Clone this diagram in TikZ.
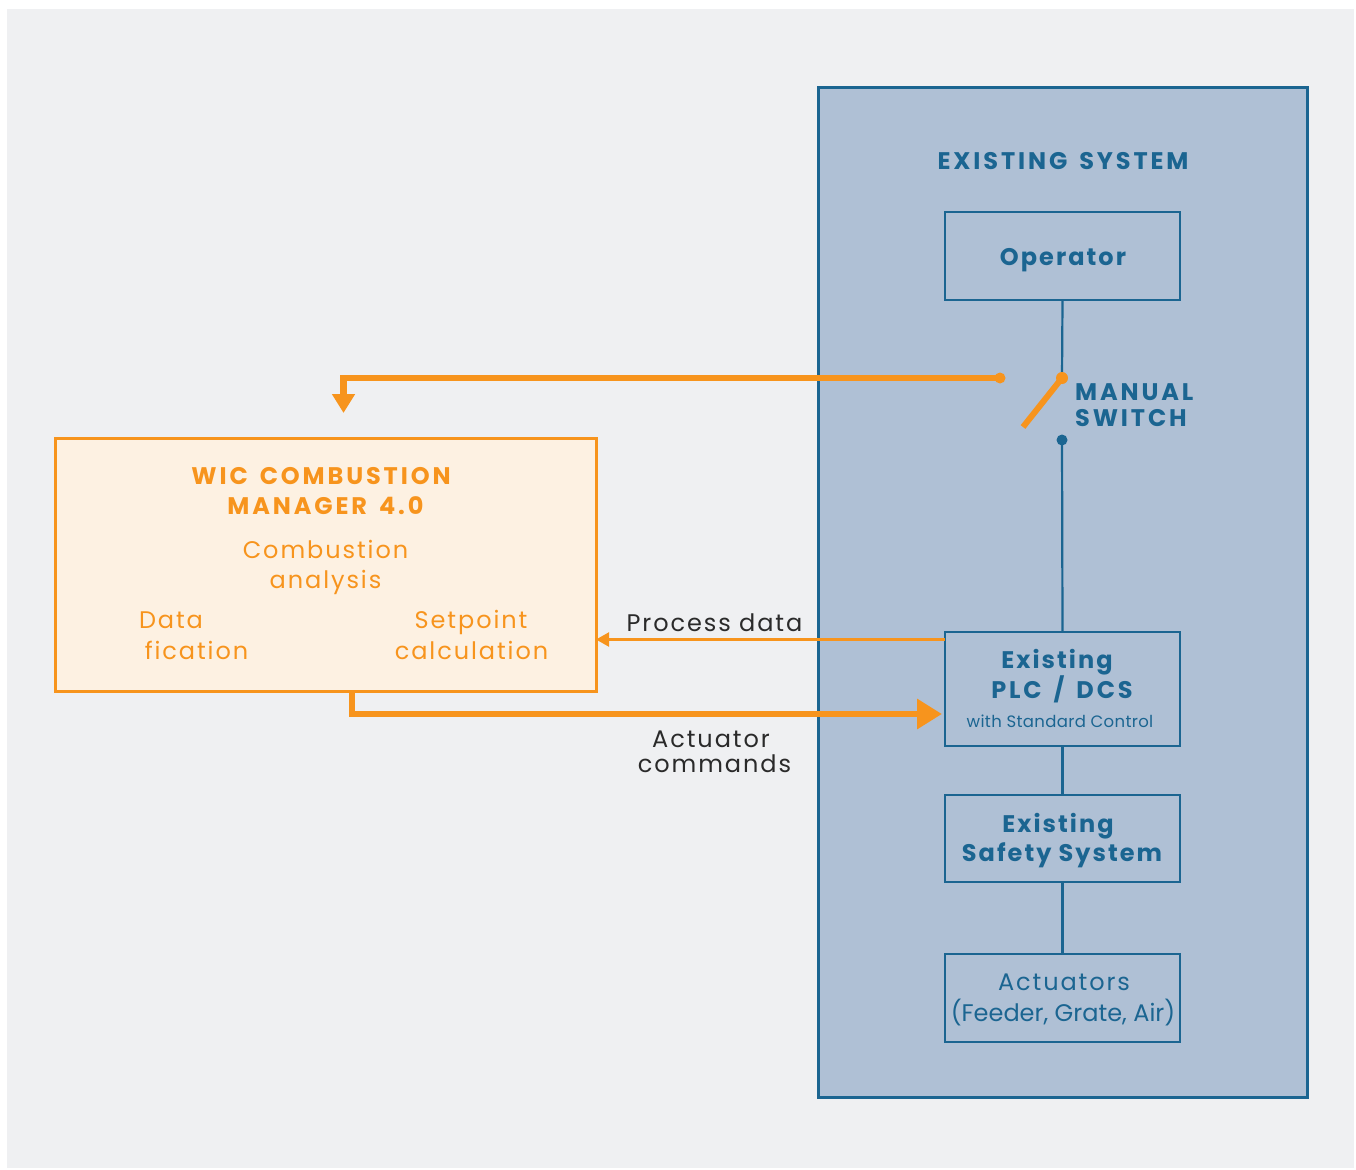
\documentclass[tikz,border=0pt]{standalone}
\usepackage{fontspec}
\setmainfont{Poppins}[LetterSpace=8]
\newfontfamily\capsfamily{Poppins}[LetterSpace=12, WordSpace=1.5]
\usetikzlibrary{arrows.meta}

\definecolor{pagebg}{HTML}{EFF0F2}
\definecolor{panelfill}{HTML}{AFC0D5}
\definecolor{sysblue}{HTML}{1B6591}
\definecolor{wicorange}{HTML}{F7941D}
\definecolor{wicfill}{HTML}{FDF1E2}
\definecolor{ink}{HTML}{2A2A2A}

\newcommand\txtsize[1]{\fontsize{#1}{#1}\selectfont}
\newcommand\capsbold{\capsfamily\bfseries}
\newcommand\mixbold{\bfseries\addfontfeature{LetterSpace=8.5}}

\tikzset{
  sysbox/.style={draw=sysblue, line width=1.8pt, minimum width=235pt, inner sep=0pt, outer sep=0pt},
  systxt/.style={anchor=base, text=sysblue, inner sep=0pt, font=\txtsize{24}\mixbold},
  syscaps/.style={anchor=base, text=sysblue, inner sep=0pt, font=\txtsize{24}\capsbold},
  sysplain/.style={anchor=base, text=sysblue, inner sep=0pt, font=\txtsize{24}},
  wictxt/.style={anchor=base, text=wicorange, inner sep=0pt, font=\txtsize{24}},
  wichead/.style={anchor=base, text=wicorange, inner sep=0pt, font=\txtsize{24}\capsbold},
  flowtxt/.style={anchor=base, text=ink, inner sep=0pt, font=\txtsize{24}},
  bluewire/.style={draw=sysblue, line width=2.2pt},
  heavyflow/.style={draw=wicorange, line width=6.5pt},
  contact/.style={circle, inner sep=0pt, outer sep=0pt},
}

\begin{document}
\begin{tikzpicture}[x=1pt, y=-1pt]
  \useasboundingbox (0,0) rectangle (1356,1169);
  \fill[white] (0,0) rectangle (1356,1169);
  \fill[pagebg] (7,9) rectangle (1354,1168);

  % existing system panel
  \node[draw=sysblue, line width=3pt, fill=panelfill, minimum width=489pt,
        minimum height=1009pt, inner sep=0pt, outer sep=0pt] (panel) at (1062.5,592.5) {};
  \node[syscaps] (systitle) at (1063,170) {EXISTING SYSTEM};

  % boxes in the chain
  \node[sysbox, minimum height=88pt] (operator) at (1062.5,256) {};
  \node[systxt] (operatortxt) at (1063,265) {Operator};

  \node[sysbox, minimum height=114pt] (plc) at (1062.5,689) {};
  \node[systxt] (plcA) at (1057,668) {Existing};
  \node[syscaps] (plcB) at (1062,698) {PLC / DCS};
  \node[sysplain, font=\txtsize{16.5}\addfontfeature{LetterSpace=2}] (plcC) at (1060,727) {with Standard Control};

  \node[sysbox, minimum height=87pt] (safety) at (1062.5,838.5) {};
  \node[systxt] (safA) at (1058,832) {Existing};
  \node[systxt] (safB) at (1062,861) {Safety System};

  \node[sysbox, minimum height=88pt] (actuators) at (1062.5,998) {};
  \node[sysplain] (actA) at (1064,990.5) {Actuators};
  \node[sysplain, font=\txtsize{24}\addfontfeature{LetterSpace=0}] (actB) at (1063,1021) {(Feeder, Grate, Air)};

  % manual switch
  \coordinate (pivot) at (1062,378);
  \coordinate (bladeend) at (1023,427);
  \node[contact, fill=sysblue, minimum size=11pt] (lowc) at (1062,440) {};
  \node[contact, fill=wicorange, minimum size=11pt] (leftc) at (1000,378) {};
  \node[syscaps, anchor=base west] (swA) at (1075,400.5) {MANUAL};
  \node[syscaps, anchor=base west] (swB) at (1075,426) {SWITCH};

  \draw[bluewire] (operator.south) -- (pivot);
  \draw[bluewire] (lowc.center) -- (plc.north);
  \draw[bluewire] (plc.south) -- (safety.north);
  \draw[bluewire] (safety.south) -- (actuators.north);
  \draw[draw=wicorange, line width=6pt] (pivot) -- (bladeend);
  \node[contact, fill=wicorange, minimum size=12pt] (pivotdot) at (pivot) {};

  % combustion manager
  \node[draw=wicorange, line width=3pt, fill=wicfill, minimum width=541pt,
        minimum height=253pt, inner sep=0pt, outer sep=0pt] (wic) at (325.5,564.5) {};
  \node[wichead] (wicA) at (321,484) {WIC COMBUSTION};
  \node[wichead] (wicB) at (325.5,514) {MANAGER 4.0};
  \node[wictxt] (caA) at (325.5,558.5) {Combustion};
  \node[wictxt] (caB) at (325.5,588) {analysis};
  \node[wictxt] (dfA) at (171,628) {Data};
  \node[wictxt] (dfB) at (196.5,659) {fication};
  \node[wictxt] (spA) at (471,628) {Setpoint};
  \node[wictxt] (spB) at (471.5,659) {calculation};

  % switch output back to the manager
  \coordinate (fbtip) at (343.5,413);
  \draw[heavyflow, -{Triangle[width=22pt, length=19pt]}] (leftc.center) -| (fbtip);

  % process data from the PLC
  \coordinate (pdstart) at (945,639.5);
  \draw[draw=wicorange, line width=2.2pt, -{Triangle[width=14pt, length=13pt]}]
    (pdstart) -- (pdstart -| wic.east);
  \node[flowtxt] (pdlabel) at (714.5,631) {Process data};

  % actuator commands to the PLC
  \coordinate (acstart) at (352,691);
  \coordinate (actip) at (942,714);
  \draw[heavyflow, -{Triangle[width=29pt, length=25pt]}] (acstart) |- (actip);
  \node[flowtxt] (acA) at (711,747.5) {Actuator};
  \node[flowtxt] (acB) at (714.5,772) {commands};
\end{tikzpicture}
\end{document}
